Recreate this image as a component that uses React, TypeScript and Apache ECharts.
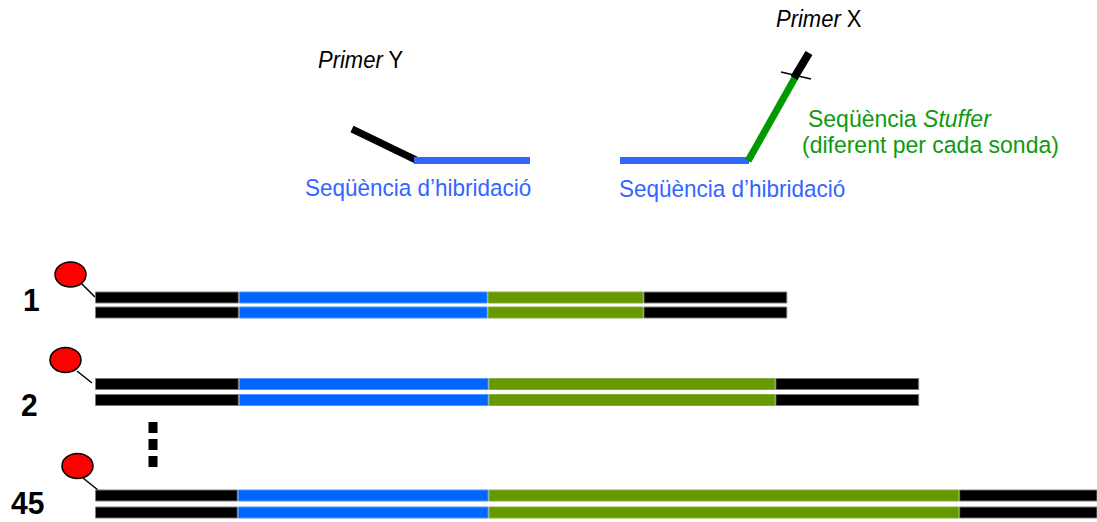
import React, { useEffect, useRef } from "react";
import * as echarts from "echarts";

// Probe numbers (labels on the left)
const probeLabels = ["1", "2", "45"];
// Segment lengths of each probe (px-like units), left to right
const leftPrimer = [144, 144, 143];
const hybridSeq = [249, 250, 251];
const stufferSeq = [156, 287, 471];
const rightPrimer = [144, 144, 144];
// two strands per probe
const strands = ["top", "bottom"];

const segmentNames = ["Primer Y", "Seqüència d'hibridació", "Seqüència Stuffer", "Primer X"];

const FONT = '"Liberation Sans", Arial, sans-serif';

export default function App() {
  const ref = useRef<HTMLDivElement>(null);
  useEffect(() => {
    document.body.style.margin = "0";
    if (!ref.current) return;
    const chart = echarts.init(ref.current, null, { renderer: "svg" });

    const gridTops = [290, 376, 487];
    const gridHeights = [30, 32, 34];
    const segData = [leftPrimer, hybridSeq, stufferSeq, rightPrimer];
    const segColors = ["#000000", "#0066FF", "#669900", "#000000"];
    const segBorders = ["#7a7a7a", "#4d94ff", "#86ad3a", "#7a7a7a"];

    const grid = probeLabels.map((_, i) => ({
      left: 95,
      width: 1003,
      top: gridTops[i],
      height: gridHeights[i],
      containLabel: false,
    }));
    const xAxis = probeLabels.map((_, i) => ({
      type: "value",
      gridIndex: i,
      min: 0,
      max: 1003,
      show: false,
    }));
    const yAxis = probeLabels.map((_, i) => ({
      type: "category",
      gridIndex: i,
      data: strands,
      inverse: true,
      show: false,
    }));
    const series: any[] = [];
    probeLabels.forEach((p, i) => {
      segData.forEach((arr, s) => {
        series.push({
          type: "bar",
          name: segmentNames[s] + " " + p,
          xAxisIndex: i,
          yAxisIndex: i,
          stack: "probe" + i,
          barWidth: 12,
          data: strands.map(() => arr[i]),
          itemStyle: { color: segColors[s], borderColor: segBorders[s], borderWidth: 1 },
          silent: true,
        });
      });
    });

    const txt = (x: number, y: number, text: string, fill: string, size: number, rich?: any) => ({
      type: "text",
      x,
      y,
      scaleY: 1.06,
      silent: true,
      style: {
        text,
        fill,
        fontFamily: FONT,
        fontSize: size,
        verticalAlign: "middle",
        align: "left",
        rich,
      },
    });
    const italicRich = (fill: string, size: number) => ({
      i: { fontStyle: "italic", fontSize: size, fontFamily: FONT, fill },
    });
    const seg = (x1: number, y1: number, x2: number, y2: number, stroke: string, w: number, extra: any = {}) => ({
      type: "line",
      silent: true,
      shape: { x1, y1, x2, y2 },
      style: { stroke, lineWidth: w, ...extra },
    });

    const circles = [
      { cx: 70.5, cy: 274.5, lx1: 81, ly1: 283, lx2: 95, ly2: 297 },
      { cx: 65.5, cy: 360, lx1: 77, ly1: 371, lx2: 92, ly2: 383 },
      { cx: 77.5, cy: 466, lx1: 83, ly1: 478, lx2: 98, ly2: 490 },
    ];
    const labelPos = [
      { x: 23, y: 300 },
      { x: 21, y: 405 },
      { x: 11, y: 503 },
    ];

    const graphic: any[] = [
      // Primer Y probe half
      seg(352, 129, 416, 160, "#000000", 7),
      seg(414, 160.5, 530, 160.5, "#3366FF", 7),
      txt(318, 60, "{i|Primer} Y", "#000000", 22, italicRich("#000000", 22)),
      txt(305, 188, "Seqüència d’hibridació", "#3366FF", 22.5),
      // Primer X probe half
      seg(620, 160.5, 749, 160.5, "#3366FF", 7),
      seg(748, 161, 796, 76, "#009900", 7),
      seg(794, 78, 809, 53, "#000000", 8),
      seg(781, 72, 811, 79, "#000000", 1.5),
      txt(776, 19, "{i|Primer} X", "#000000", 22, italicRich("#000000", 22)),
      txt(808, 119, "Seqüència {i|Stuffer}", "#0f9a0f", 23, italicRich("#0f9a0f", 23)),
      txt(802, 145, "(diferent per cada sonda)", "#0f9a0f", 23),
      txt(619, 189, "Seqüència d’hibridació", "#3366FF", 22.5),
      // dots between probes
      seg(153, 422, 153, 467, "#000000", 9, { lineDash: [11, 6] }),
    ];
    circles.forEach((c) => {
      graphic.push(seg(c.lx1, c.ly1, c.lx2, c.ly2, "#000000", 1.5));
      graphic.push({
        type: "ellipse",
        silent: true,
        shape: { cx: c.cx, cy: c.cy, rx: 15.5, ry: 12.5 },
        style: { fill: "#FF0000", stroke: "#000000", lineWidth: 1.5 },
      });
    });
    probeLabels.forEach((p, i) => {
      graphic.push({
        type: "text",
        x: labelPos[i].x,
        y: labelPos[i].y,
        scaleY: 1.05,
        silent: true,
        style: {
          text: p,
          fill: "#000000",
          fontFamily: FONT,
          fontSize: 30,
          fontWeight: "bold",
          verticalAlign: "middle",
          align: "left",
        },
      });
    });

    chart.setOption({
      animation: false,
      backgroundColor: "#ffffff",
      grid,
      xAxis,
      yAxis,
      series,
      graphic,
    });
    return () => chart.dispose();
  }, []);
  return <div ref={ref} style={{ width: 1097, height: 522, overflow: "hidden" }} />;
}
